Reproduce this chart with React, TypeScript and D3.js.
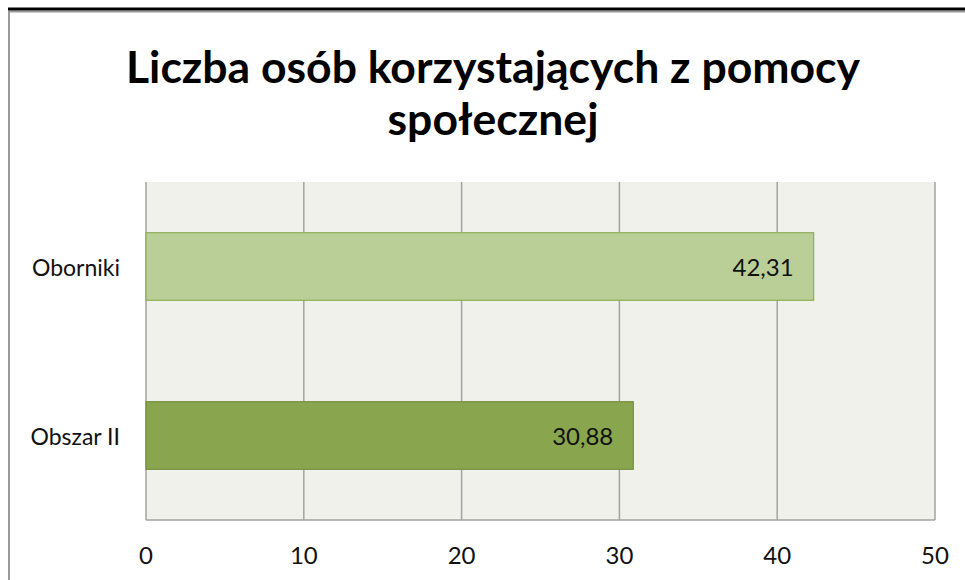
import React from "react";
import * as d3 from "d3";

const categories = ["Oborniki", "Obszar II"];
const values = [42.31, 30.88];
const valueLabels = ["42,31", "30,88"];
const barColors = ["#b9cf97", "#89a54e"];
const barStrokes = ["#8fae55", "#74903f"];
const ticks = [0, 10, 20, 30, 40, 50];
const titleLines = ["Liczba osób korzystających z pomocy", "społecznej"];

export default function App() {
  const W = 965, H = 580;
  const left = 146, right = 935, top = 182, bottom = 520;
  const x = d3.scaleLinear().domain([0, 50]).range([left, right]);
  const y = d3.scaleBand().domain(categories).range([top, bottom]).paddingInner(0.6).paddingOuter(0.3);
  const font = "Lato, 'Open Sans', sans-serif";
  return (
    <svg width={W} height={H} style={{ position: "absolute", left: 0, top: 0 }}>
      <rect x={0} y={0} width={W} height={H} fill="#ffffff" />
      <line x1={8} x2={W} y1={11.5} y2={11.5} stroke="#9a9a9a" strokeWidth={2} />
      <line x1={8} x2={W} y1={9} y2={9} stroke="#000" strokeWidth={3} />
      <line x1={9} x2={9} y1={11} y2={H} stroke="#9a9a9a" strokeWidth={2} />
      {titleLines.map((t, i) => (
        <text key={i} x={493} y={83 + i * 52} textAnchor="middle" fontFamily={font} fontWeight="bold" fontSize={44.5} fill="#000">{t}</text>
      ))}
      <rect x={left} y={top} width={right - left} height={bottom - top} fill="#eff1ea" />
      {ticks.map((t) => (
        <line key={t} x1={x(t)} x2={x(t)} y1={top} y2={bottom} stroke="#a3a3a3" strokeWidth={1.5} />
      ))}
      <line x1={left} x2={right} y1={bottom} y2={bottom} stroke="#a3a3a3" strokeWidth={1.5} />
      {categories.map((c, i) => (
        <g key={c}>
          <rect x={x(0)} y={y(c)!} width={x(values[i]) - x(0)} height={y.bandwidth()} fill={barColors[i]} stroke={barStrokes[i]} strokeWidth={1.2} />
          <text x={x(values[i]) - 20} y={y(c)! + y.bandwidth() / 2 + 9} textAnchor="end" fontFamily={font} fontSize={24} fill="#111">{valueLabels[i]}</text>
          <text x={120} y={y(c)! + y.bandwidth() / 2 + 9} textAnchor="end" fontFamily={font} fontSize={23} fill="#111">{c}</text>
        </g>
      ))}
      {ticks.map((t) => (
        <text key={t} x={x(t)} y={564} textAnchor="middle" fontFamily={font} fontSize={24} fill="#111">{t}</text>
      ))}
    </svg>
  );
}
